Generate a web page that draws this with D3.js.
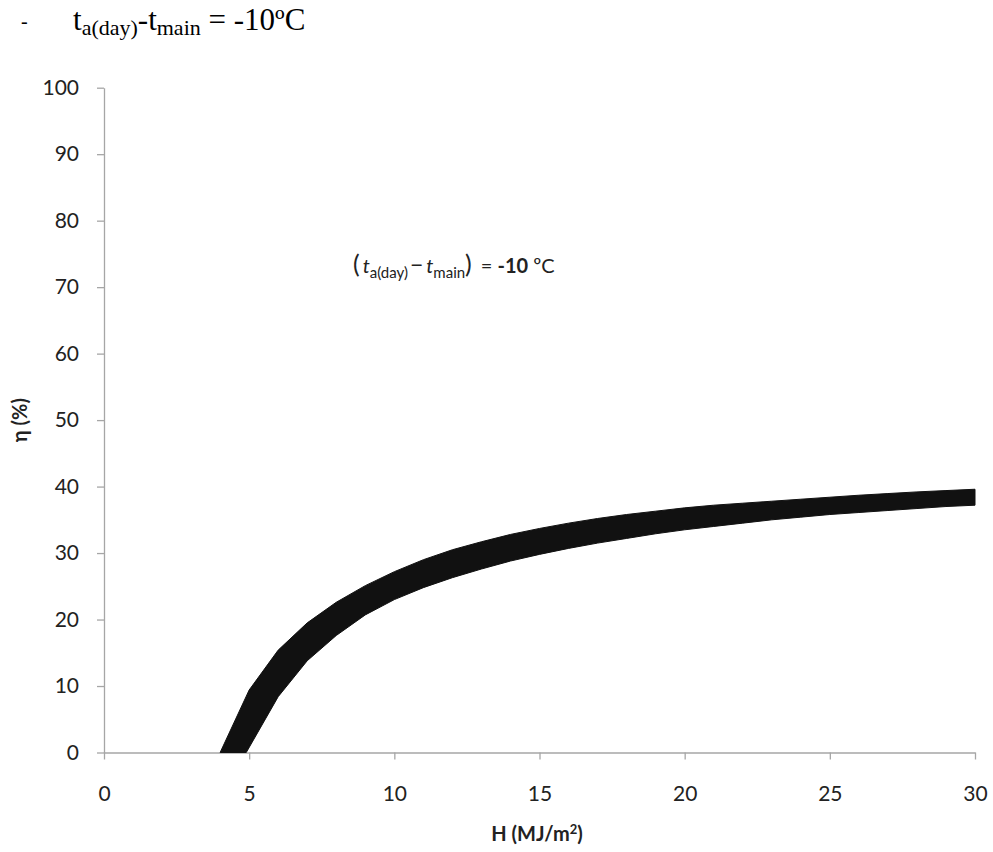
<!DOCTYPE html>
<html><head><meta charset="utf-8">
<script src="https://cdn.jsdelivr.net/npm/d3@7/dist/d3.min.js"></script>
<style>body{margin:0;background:#fff}svg{display:block}</style>
</head><body>
<svg id="c" width="993" height="852"></svg>
<script>
// Data
const upperH   = [4, 5, 6, 7, 8, 9, 10, 11, 12, 13, 14, 15, 16, 17, 18, 19, 20, 21, 22, 23, 24, 25, 26, 27, 28, 29, 30];
const upperEta = [0, 9.4, 15.4, 19.5, 22.6, 25.1, 27.2, 29.0, 30.5, 31.7, 32.8, 33.7, 34.5, 35.2, 35.8, 36.3, 36.8, 37.2, 37.5, 37.8, 38.1, 38.4, 38.7, 38.95, 39.2, 39.4, 39.6];
const lowerH   = [4.9, 6, 7, 8, 9, 10, 11, 12, 13, 14, 15, 16, 17, 18, 19, 20, 21, 22, 23, 24, 25, 26, 27, 28, 29, 30];
const lowerEta = [0, 8.4, 13.8, 17.6, 20.7, 23.0, 24.8, 26.3, 27.6, 28.8, 29.8, 30.7, 31.5, 32.2, 32.9, 33.5, 34.0, 34.5, 35.0, 35.4, 35.8, 36.1, 36.4, 36.7, 37.0, 37.2];
const xTicks = [0, 5, 10, 15, 20, 25, 30];
const yTicks = [0, 10, 20, 30, 40, 50, 60, 70, 80, 90, 100];

const svg = d3.select("#c");
const x = d3.scaleLinear().domain([0, 30]).range([104, 975]);
const y = d3.scaleLinear().domain([0, 100]).range([752.5, 87.7]);
const axisColor = "#a6a6a6";
const tickFont = "Lato, 'Open Sans', sans-serif";

// Y axis
const gy = svg.append("g").attr("transform", `translate(${x(0)},0)`)
  .call(d3.axisLeft(y).tickValues(yTicks).tickSizeInner(7).tickSizeOuter(0).tickPadding(18));
gy.select(".domain").attr("stroke", axisColor).attr("stroke-width", 1.3);
gy.selectAll(".tick line").attr("stroke", axisColor).attr("stroke-width", 1.3);
gy.selectAll(".tick text").attr("font-family", tickFont).attr("font-size", 21).attr("fill", "#222");

// X axis
const gx = svg.append("g").attr("transform", `translate(0,${y(0)})`)
  .call(d3.axisBottom(x).tickValues(xTicks).tickSizeInner(7).tickSizeOuter(0).tickPadding(27));
gx.select(".domain").attr("stroke", axisColor).attr("stroke-width", 1.3);
gx.selectAll(".tick line").attr("stroke", axisColor).attr("stroke-width", 1.3);
gx.selectAll(".tick text").attr("font-family", tickFont).attr("font-size", 21).attr("fill", "#222");

// Band (range between upper and lower curves)
const upper = upperH.map((h, i) => [h, upperEta[i]]);
const lower = lowerH.map((h, i) => [h, lowerEta[i]]);
const poly = upper.concat(lower.slice().reverse());
const line = d3.line().x(d => x(d[0])).y(d => y(d[1])).curve(d3.curveLinear);
svg.append("path").attr("d", line(poly) + "Z").attr("fill", "#111").attr("stroke", "#111").attr("stroke-width", 1);

// Axis titles
svg.append("text").attr("x", 537).attr("y", 841).attr("text-anchor", "middle")
  .attr("font-family", tickFont).attr("font-weight", "bold").attr("font-size", 20).attr("fill", "#222")
  .html('H (MJ/m<tspan dy="-7" font-size="13">2</tspan><tspan dy="7">)</tspan>');
svg.append("text").attr("transform", `translate(27,${(y(0) + y(100)) / 2}) rotate(-90)`).attr("text-anchor", "middle")
  .attr("font-family", tickFont).attr("font-weight", "bold").attr("font-size", 20).attr("fill", "#222")
  .text("η (%)");

// Annotation inside chart
const ann = svg.append("text").attr("x", 353).attr("y", 273)
  .attr("font-family", tickFont).attr("font-size", 20).attr("fill", "#222");
ann.append("tspan").attr("font-size", 25).text("(");
ann.append("tspan").attr("font-style", "italic").attr("dx", 3).text("t");
ann.append("tspan").attr("font-size", 15).attr("dy", 5).text("a(day)");
ann.append("tspan").attr("dy", -5).attr("dx", 2).attr("font-size", 23).text("−");
ann.append("tspan").attr("font-style", "italic").attr("dx", 3).text("t");
ann.append("tspan").attr("font-size", 15).attr("dy", 5).text("main");
ann.append("tspan").attr("dy", -5).attr("font-size", 25).text(")");
ann.append("tspan").attr("dx", 9).text("= ");
ann.append("tspan").attr("font-weight", "bold").text("-10");
ann.append("tspan").text(" ºC");

// Heading above chart
const serif = "'Liberation Serif', 'Times New Roman', serif";
svg.append("text").attr("x", 21).attr("y", 28).attr("font-family", serif).attr("font-size", 20).attr("fill", "#000").text("-");
const head = svg.append("text").attr("x", 73).attr("y", 30).attr("font-family", serif).attr("font-size", 31).attr("fill", "#000");
head.append("tspan").text("t");
head.append("tspan").attr("font-size", 22).attr("dy", 5).text("a(day)");
head.append("tspan").attr("dy", -5).text("-t");
head.append("tspan").attr("font-size", 22).attr("dy", 5).text("main");
head.append("tspan").attr("dy", -5).text(" = -10ºC");
</script>
</body></html>
